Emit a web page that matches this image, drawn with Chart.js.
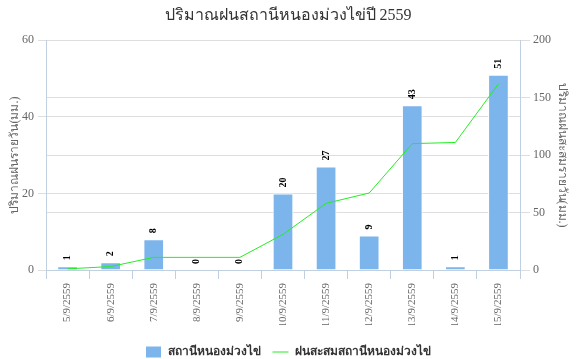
<!DOCTYPE html>
<html>
<head>
<meta charset="utf-8">
<script src="https://cdn.jsdelivr.net/npm/chart.js@4/dist/chart.umd.min.js"></script>
<style>
html,body{margin:0;padding:0;background:#fff;}
#wrap{width:576px;height:359px;position:relative;}
</style>
</head>
<body>
<div id="wrap"><canvas id="c" width="576" height="359"></canvas></div>
<script>
const categories = ['5/9/2559','6/9/2559','7/9/2559','8/9/2559','9/9/2559','10/9/2559','11/9/2559','12/9/2559','13/9/2559','14/9/2559','15/9/2559'];
const dailyRain = [1, 2, 8, 0, 0, 20, 27, 9, 43, 1, 51];
const cumulativeRain = [1, 3, 11, 11, 11, 31, 58, 67, 110, 111, 162];
const leftTicks = [0, 20, 40, 60];
const rightTicks = [0, 50, 100, 150, 200];
const titleText = 'ปริมาณฝนสถานีหนองม่วงไข่ปี 2559';
const leftAxisTitle = 'ปริมาณฝนรายวัน(มม.)';
const rightAxisTitle = 'ปริมาณฝนสะสมรายวัน(มม.)';
const barLabel = 'สถานีหนองม่วงไข่';
const lineLabel = 'ฝนสะสมสถานีหนองม่วงไข่';

const SERIF = '"Liberation Serif", "DejaVu Serif", serif';
const SANS = 'Tahoma, "DejaVu Sans", "Noto Sans", sans-serif';
Chart.defaults.font.family = SERIF;
Chart.defaults.color = '#666';

const barLabels = {
  id: 'barLabels',
  afterDatasetsDraw(chart) {
    const meta = chart.getDatasetMeta(0);
    const ctx = chart.ctx;
    ctx.save();
    ctx.font = 'bold 10px ' + SERIF;
    ctx.fillStyle = '#000';
    ctx.textAlign = 'left';
    ctx.textBaseline = 'middle';
    meta.data.forEach((el, i) => {
      ctx.save();
      ctx.translate(el.x, el.y - 6);
      ctx.rotate(-Math.PI / 2);
      ctx.fillText(String(dailyRain[i]), 0, 0);
      ctx.restore();
    });
    ctx.restore();
  }
};

const legendShift = {
  id: 'legendShift',
  afterLayout(chart) {
    if (chart.legend) {
      chart.legend.top += 9;
      chart.legend.bottom += 9;
    }
  }
};

new Chart(document.getElementById('c'), {
  data: {
    labels: categories,
    datasets: [
      {
        type: 'bar',
        label: barLabel,
        data: dailyRain,
        yAxisID: 'y',
        backgroundColor: '#7cb5ec',
        borderColor: '#ffffff',
        borderWidth: 1,
        categoryPercentage: 1,
        barPercentage: 0.48,
        order: 1,
        pointStyle: 'rect'
      },
      {
        type: 'line',
        label: lineLabel,
        data: cumulativeRain,
        yAxisID: 'y2',
        borderColor: '#22ee22',
        backgroundColor: '#22ee22',
        borderWidth: 1,
        pointRadius: 0,
        tension: 0,
        order: 0,
        pointStyle: 'line'
      }
    ]
  },
  options: {
    responsive: false,
    animation: false,
    layout: { padding: { left: 0, right: 0, top: 0, bottom: 0 } },
    plugins: {
      tooltip: { enabled: false },
      title: {
        display: true,
        text: titleText,
        color: '#333',
        font: { size: 16, weight: 'normal', family: SERIF },
        padding: { top: 6, bottom: 15 }
      },
      legend: {
        position: 'bottom',
        labels: {
          usePointStyle: true,
          pointStyleWidth: 16,
          boxHeight: 13,
          color: '#333',
          font: { size: 12, weight: 'bold', family: SANS },
          padding: 12,
          sort: (a, b) => a.datasetIndex - b.datasetIndex
        }
      }
    },
    scales: {
      x: {
        grid: {
          drawOnChartArea: false,
          drawTicks: true,
          tickLength: 9,
          color: '#c0d0e0',
          offset: true
        },
        border: { color: '#c0d0e0' },
        ticks: {
          minRotation: 90,
          maxRotation: 90,
          autoSkip: false,
          padding: 4,
          color: '#666',
          font: { size: 11, family: SERIF }
        },
        afterFit(s) { s.height = 55; }
      },
      y: {
        position: 'left',
        min: 0, max: 60,
        afterBuildTicks(s) { s.ticks = leftTicks.map(v => ({ value: v })); },
        grid: { color: '#dedede', tickLength: 8, drawTicks: true },
        border: { color: '#c0d0e0' },
        ticks: { padding: 4, color: '#666', font: { size: 12, family: SERIF } },
        title: { display: true, text: leftAxisTitle, color: '#666', font: { size: 12, family: SERIF }, padding: { top: 8 } },
        afterFit(s) { s.width = 46; }
      },
      y2: {
        position: 'right',
        min: 0, max: 200,
        afterBuildTicks(s) { s.ticks = rightTicks.map(v => ({ value: v })); },
        grid: { color: '#dedede', tickLength: 10, drawTicks: true, drawOnChartArea: true },
        border: { color: '#c0d0e0' },
        ticks: { padding: 3, color: '#666', font: { size: 12, family: SERIF } },
        title: { display: true, text: rightAxisTitle, color: '#666', font: { size: 12, family: SERIF }, padding: { top: 7 } },
        afterFit(s) { s.width = 56; }
      }
    }
  },
  plugins: [barLabels, legendShift]
});
</script>
</body>
</html>
